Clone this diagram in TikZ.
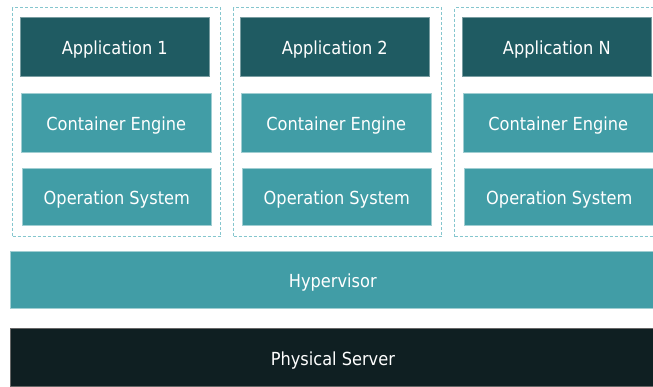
\documentclass[tikz,border=0pt]{standalone}
\usepackage{fontspec}
\setmainfont{DejaVu Sans Condensed}
\definecolor{appc}{HTML}{1F5B62}
\definecolor{layc}{HTML}{419DA6}
\definecolor{srvc}{HTML}{0F1F22}
\definecolor{dashc}{HTML}{85C6CE}
\begin{document}
\begin{tikzpicture}[x=1pt,y=-1pt,
  blk/.style={rectangle,inner sep=0pt,anchor=north west,text=white,
    font=\fontsize{18}{20}\selectfont,text height=15.6pt,text depth=0pt},
  appbox/.style={blk,fill=appc,draw=appc!60!white,line width=0.6pt},
  laybox/.style={blk,fill=layc,draw=layc!50!white,line width=0.6pt},
  grp/.style={rectangle,inner sep=0pt,anchor=north west,draw=dashc,
    line width=1.4pt,dash pattern=on 3pt off 2pt}]
\useasboundingbox (0,0) rectangle (653,387);
\fill[white] (0,0) rectangle (653,387);
% groups
\node[grp,minimum width=208pt,minimum height=229pt] (g1) at (12,7) {};
\node[grp,minimum width=208pt,minimum height=229pt] (g2) at (233,7) {};
\node[grp,minimum width=210pt,minimum height=229pt] (g3) at (454,7) {};
% column 1
\node[appbox,minimum width=189pt,minimum height=59pt] (a1) at (20,17) {Application 1};
\node[laybox,minimum width=190pt,minimum height=59pt] (c1) at (21,93) {Container Engine};
\node[laybox,minimum width=189pt,minimum height=57pt] (o1) at (22,168) {Operation System};
% column 2
\node[appbox,minimum width=189pt,minimum height=59pt] (a2) at (240,17) {Application 2};
\node[laybox,minimum width=190pt,minimum height=59pt] (c2) at (241,93) {Container Engine};
\node[laybox,minimum width=189pt,minimum height=57pt] (o2) at (242,168) {Operation System};
% column N
\node[appbox,minimum width=189pt,minimum height=59pt] (a3) at (462,17) {Application N};
\node[laybox,minimum width=190pt,minimum height=59pt] (c3) at (463,93) {Container Engine};
\node[laybox,minimum width=190pt,minimum height=57pt] (o3) at (464,168) {Operation System};
% base layers
\node[laybox,minimum width=645pt,minimum height=57pt] (hv) at (10,251) {Hypervisor};
\node[blk,fill=srvc,draw=black!60,line width=0.8pt,minimum width=645pt,minimum height=58pt] (ps) at (10,328) {Physical Server};
\end{tikzpicture}
\end{document}
